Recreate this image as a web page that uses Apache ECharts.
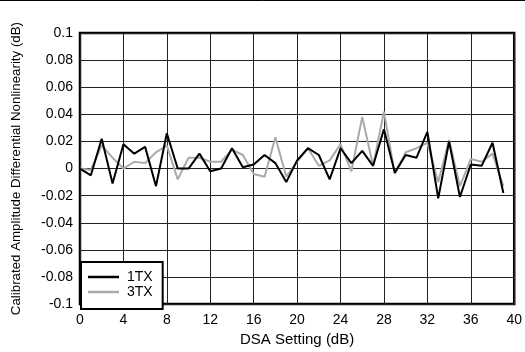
<!DOCTYPE html>
<html>
<head>
<meta charset="utf-8">
<script src="https://cdn.jsdelivr.net/npm/echarts@6/dist/echarts.min.js"></script>
<style>
html,body{margin:0;padding:0;background:#fff;}
#c{width:525px;height:352px;}
</style>
</head>
<body>
<div id="c"></div>
<script>
const dsa = [0,1,2,3,4,5,6,7,8,9,10,11,12,13,14,15,16,17,18,19,20,21,22,23,24,25,26,27,28,29,30,31,32,33,34,35,36,37,38,39];
const tx1 = [0,-0.005,0.022,-0.011,0.018,0.011,0.016,-0.013,0.026,0,0,0.011,-0.002,0,0.015,0.001,0.003,0.010,0.004,-0.010,0.006,0.015,0.010,-0.008,0.015,0.004,0.013,0.002,0.029,-0.003,0.010,0.008,0.027,-0.022,0.020,-0.021,0.003,0.002,0.019,-0.018];
const tx3 = [0,-0.001,0.017,0.008,0,0.005,0.004,0.012,0.017,-0.008,0.008,0.008,0.005,0.005,0.014,0.010,-0.004,-0.006,0.023,-0.006,0.005,0.015,0.002,0.006,0.018,-0.002,0.038,0.002,0.042,-0.004,0.012,0.015,0.019,-0.010,0.021,-0.013,0.007,0.005,0.011,-0.013];
const seriesNames = ['1TX','3TX'];
const xTitle = 'DSA Setting (dB)';
const yTitle = 'Calibrated Amplitude Differential Nonlinearity (dB)';

const chart = echarts.init(document.getElementById('c'), null, {renderer:'canvas'});
const font = 'Liberation Sans, Arial, sans-serif';
const pair = (arr) => dsa.map((x,i)=>[x,arr[i]]);
chart.setOption({
  animation:false,
  backgroundColor:'#fff',
  grid:{left:80,right:9,top:33,bottom:41,show:true,borderColor:'#000',borderWidth:2.5,backgroundColor:'transparent'},
  xAxis:{type:'value',min:0,max:40,interval:4,
    name:xTitle,nameLocation:'middle',nameGap:25,
    nameTextStyle:{fontFamily:font,fontSize:15,color:'#000'},
    axisLine:{show:false},axisTick:{show:false},
    axisLabel:{fontFamily:font,fontSize:14,color:'#000',margin:9},
    splitLine:{show:true,lineStyle:{color:'#222',width:1}}},
  yAxis:{type:'value',min:-0.1,max:0.1,interval:0.02,
    name:yTitle,nameLocation:'middle',nameGap:57,
    nameTextStyle:{fontFamily:font,fontSize:13.3,color:'#000'},
    axisLine:{show:false},axisTick:{show:false},
    axisLabel:{fontFamily:font,fontSize:14,color:'#000',margin:7,
      formatter:v=>String(parseFloat(v.toFixed(2)))},
    splitLine:{show:true,lineStyle:{color:'#222',width:1}}},
  legend:{left:81,top:262,orient:'vertical',
    data:seriesNames,
    backgroundColor:'#fff',borderColor:'#000',borderWidth:2,
    padding:[8,10,10,7],itemGap:1,itemWidth:31,itemHeight:2.5,icon:'rect',
    textStyle:{fontFamily:font,fontSize:14,color:'#000',lineHeight:14,padding:[0,0,0,3]}},
  graphic:[{type:'line',shape:{x1:0,y1:0.5,x2:525,y2:0.5},style:{stroke:'#000',lineWidth:1}}],
  series:[
    {name:seriesNames[0],type:'line',data:pair(tx1),symbol:'none',
      lineStyle:{color:'#000',width:2},itemStyle:{color:'#000'},z:3},
    {name:seriesNames[1],type:'line',data:pair(tx3),symbol:'none',
      lineStyle:{color:'#aaa',width:2},itemStyle:{color:'#aaa'},z:2}
  ]
});
</script>
</body>
</html>
